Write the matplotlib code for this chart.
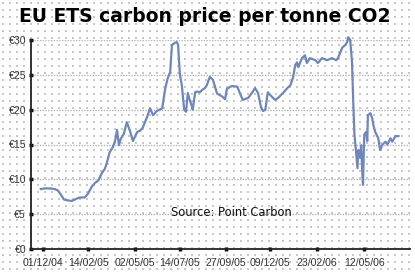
import matplotlib
matplotlib.use("Agg")
import matplotlib.pyplot as plt
import numpy as np
import pandas as pd

# ---- data (days since 01/12/04, price in EUR) ----
day_offsets = [-3, 4, 12, 20, 25, 30, 35, 40, 48, 55, 61, 69, 74, 81, 86, 91, 97, 102, 105, 110,
               115, 119, 122, 125, 128, 133, 138, 143, 148, 155, 160, 164, 171, 176, 181, 187, 196, 201, 205, 209,
               212, 217, 220, 222, 225, 228, 232, 235, 238, 241, 245, 246, 250, 253, 258, 261, 266, 269, 274, 279,
               286, 294, 299, 302, 310, 319, 324, 328, 337, 343, 348, 353, 358, 361, 365, 369, 373, 381, 386, 394,
               401, 406, 410, 414, 417, 419, 425, 430, 433, 438, 447, 451, 458, 466, 474, 481, 484, 491, 496, 499,
               501, 504, 507, 509, 511, 514, 516, 517, 520, 522, 524, 525, 527, 530, 532, 533, 537, 540, 542, 545,
               550, 553, 557, 562, 565, 570, 573, 578, 583]
prices = [8.6, 8.7, 8.7, 8.6, 8.4, 7.8, 7.1, 7.0, 6.9, 7.2, 7.4, 7.4, 7.9, 9.0, 9.5, 9.8, 10.9, 11.5, 12.3, 13.9,
          14.6, 15.6, 17.1, 14.9, 15.8, 16.5, 18.2, 17.0, 15.5, 16.8, 17.0, 17.4, 18.9, 20.2, 19.2, 19.8, 20.2, 23.1, 24.5, 25.4,
          29.3, 29.6, 29.7, 29.3, 25.0, 23.6, 20.0, 19.7, 22.4, 21.4, 20.4, 20.0, 22.5, 22.6, 22.5, 22.8, 23.1, 23.5, 24.7, 24.3,
          22.3, 21.9, 21.5, 23.0, 23.4, 23.3, 22.2, 21.4, 21.7, 22.4, 23.1, 22.4, 20.3, 19.8, 20.0, 22.5, 22.1, 21.4, 21.7, 22.4,
          23.1, 23.5, 24.5, 26.4, 26.8, 26.1, 27.4, 27.8, 26.7, 27.4, 27.1, 26.7, 27.4, 27.1, 27.4, 27.1, 27.4, 28.9, 29.3, 29.7,
          30.4, 30.0, 26.8, 21.1, 16.4, 13.5, 11.6, 14.2, 13.1, 14.9, 10.6, 9.2, 16.4, 16.8, 15.5, 19.2, 19.5, 18.8, 17.8, 16.8,
          15.9, 14.2, 15.0, 15.4, 15.0, 15.9, 15.4, 16.2, 16.2]
tick_dates = ["01/12/04", "14/02/05", "02/05/05", "14/07/05", "27/09/05", "09/12/05", "23/02/06", "12/05/06"]
y_ticks = [0, 5, 10, 15, 20, 25, 30]
y_labels = ["€0", "€5", "€10", "€15", "€20", "€25", "€30"]

start = pd.Timestamp("2004-12-01")
dates = start + pd.to_timedelta(day_offsets, unit="D")
tick_pos = pd.to_datetime(tick_dates, format="%d/%m/%y")

W, H = 415, 276
fig = plt.figure(figsize=(W / 100, H / 100), dpi=100)
fig.patch.set_facecolor("white")

# background dotted pattern
bg = fig.add_axes([0, 0, 1, 1], zorder=0)
bg.set_xlim(0, W)
bg.set_ylim(H, 0)
bg.axis("off")
gx, gy = np.meshgrid(np.arange(3, W, 7), np.arange(3, H, 7))
bg.scatter(gx.ravel(), gy.ravel(), s=0.6, c="#c8c8c8", marker="s", linewidths=0)

ax = fig.add_axes([31 / W, (H - 249) / H, (410 - 31) / W, (249 - 40) / H], zorder=1)
ax.patch.set_alpha(0)
ax.plot(dates, prices, color="#6f86bd", lw=1.6, solid_joinstyle="round", clip_on=False, zorder=3)

ax.set_ylim(0, 30)
ax.set_xlim(start - pd.Timedelta(days=19), start + pd.Timedelta(days=602))
ax.set_yticks(y_ticks)
ax.set_yticklabels(y_labels)
ax.set_xticks(tick_pos)
ax.set_xticklabels(tick_dates)
for v in y_ticks[1:]:
    ax.axhline(v, color="#b4b4b4", lw=1.0, ls=(0, (1, 1)), zorder=1)

for s in ["top", "right"]:
    ax.spines[s].set_visible(False)
for s in ["left", "bottom"]:
    ax.spines[s].set_linewidth(1.3)
    ax.spines[s].set_color("#222222")
ax.tick_params(axis="both", direction="inout", length=3, width=2.5, color="#111111",
               labelsize=7.6, labelcolor="#333333")
ax.tick_params(axis="y", pad=2)
ax.tick_params(axis="x", pad=5)
for lab in ax.get_xticklabels() + ax.get_yticklabels():
    lab.set_fontfamily("Liberation Sans")

fig.text(205 / W, 1 - 16 / H, "EU ETS carbon price per tonne CO2", ha="center", va="center",
         fontsize=13.5, fontweight="heavy", family="DejaVu Sans")
ax.text(0.37, 5.2 / 30, "Source: Point Carbon", transform=ax.transAxes, ha="left", va="center",
        fontsize=8.3, family="DejaVu Sans", color="#111111")

fig.savefig("out.png", dpi=100)
